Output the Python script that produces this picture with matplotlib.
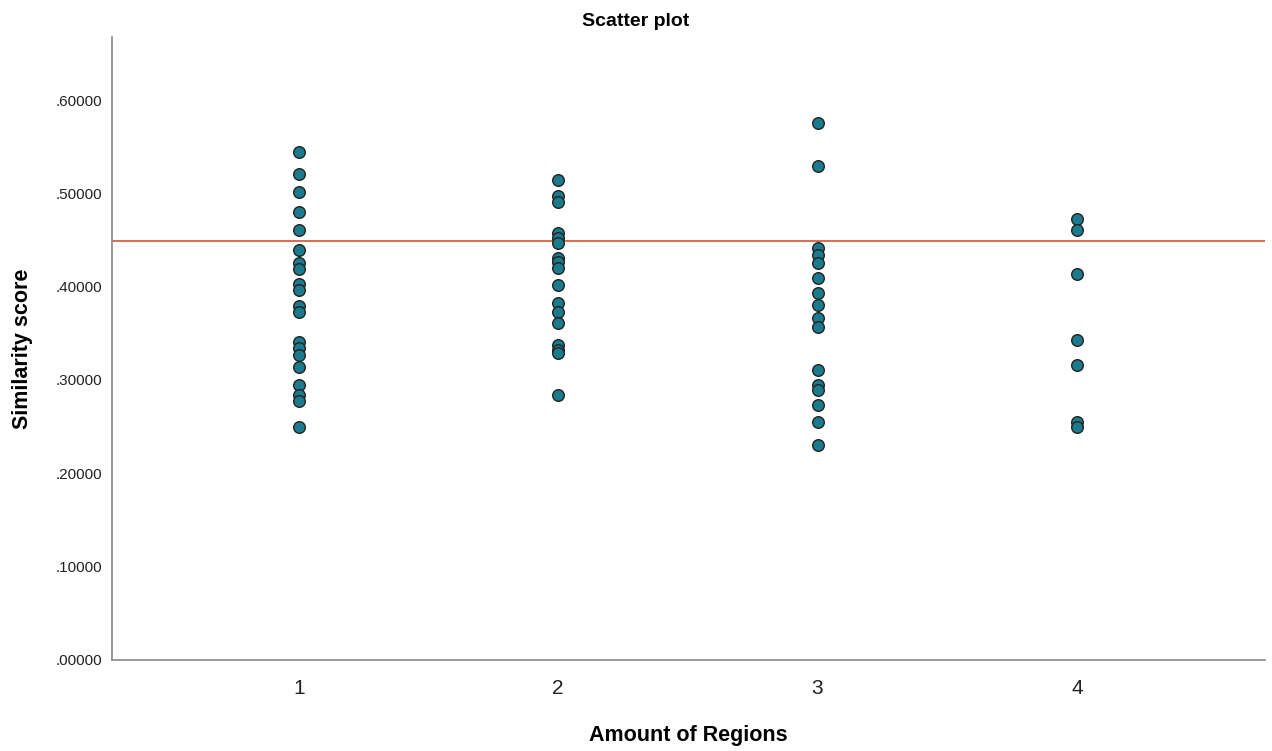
import matplotlib
matplotlib.use("Agg")
import matplotlib.pyplot as plt

# Similarity scores grouped by number of regions
regions_1 = [0.544, 0.521, 0.501, 0.480, 0.461, 0.439, 0.425, 0.419, 0.403, 0.396,
             0.379, 0.373, 0.341, 0.334, 0.327, 0.314, 0.295, 0.284, 0.277, 0.250]
regions_2 = [0.514, 0.497, 0.491, 0.457, 0.452, 0.447, 0.431, 0.426, 0.420, 0.402,
             0.382, 0.373, 0.361, 0.338, 0.332, 0.329, 0.284]
regions_3 = [0.575, 0.529, 0.441, 0.434, 0.425, 0.409, 0.393, 0.380, 0.366, 0.357,
             0.311, 0.295, 0.289, 0.273, 0.255, 0.230]
regions_4 = [0.473, 0.461, 0.414, 0.343, 0.316, 0.255, 0.250]
groups = [1, 2, 3, 4]
reference_value = 0.449

y_ticks = [0.0, 0.1, 0.2, 0.3, 0.4, 0.5, 0.6]
y_tick_labels = [".00000", ".10000", ".20000", ".30000", ".40000", ".50000", ".60000"]

plt.rcParams['font.family'] = ['Liberation Sans', 'DejaVu Sans']

fig = plt.figure(figsize=(12.72, 7.51), dpi=100)
ax = fig.add_axes([0.088, 0.1212, 0.9065, 0.8295])

for g, vals in zip(groups, [regions_1, regions_2, regions_3, regions_4]):
    ax.scatter([g] * len(vals), vals, s=70, facecolor="#1b7a8c",
               edgecolor="#222222", linewidth=1.0, zorder=3)

ax.axhline(reference_value, color="#d4532e", linewidth=1.2, zorder=2)

ax.set_xlim(0.28, 4.725)
ax.set_ylim(0, 0.6675)
ax.set_xticks(groups)
ax.set_xticklabels([str(g) for g in groups], fontsize=15)
ax.set_yticks(y_ticks)
ax.set_yticklabels(y_tick_labels, fontsize=11)
ax.tick_params(axis="both", length=0, colors="#222222")
ax.tick_params(axis="x", pad=14)
ax.tick_params(axis="y", pad=7)

for side in ("top", "right"):
    ax.spines[side].set_visible(False)
for side in ("left", "bottom"):
    ax.spines[side].set_color("#888888")
    ax.spines[side].set_linewidth(1.2)

fig.text(0.5, 0.972, "Scatter plot", fontsize=14, fontweight="bold",
         ha="center", va="center")
ax.set_xlabel("Amount of Regions", fontsize=15.5, fontweight="bold", labelpad=19)
ax.set_ylabel("Similarity score", fontsize=15.5, fontweight="bold", labelpad=16)

fig.savefig("out.png", dpi=100, facecolor="white")
